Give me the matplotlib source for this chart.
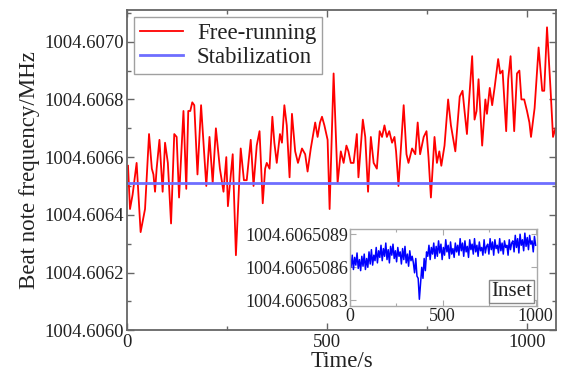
import numpy as np
import matplotlib
matplotlib.use('Agg')
import matplotlib.pyplot as plt
from matplotlib import ticker
from matplotlib.offsetbox import AnchoredText

# free-running beat note
free_t = [2.5, 7.5, 14, 24, 34, 45, 55, 62, 66, 70, 74, 81, 89, 95, 102, 110, 118, 124, 130, 141,
          148, 153, 158, 163, 168, 176, 185, 198, 206, 214, 222, 232, 241, 248, 252, 264, 272, 284, 292, 299,
          309, 316, 324, 331, 339, 345, 349, 356, 363, 368, 374, 382, 387, 393, 399, 406, 412, 420, 427, 437,
          445, 451, 459, 470, 476, 482, 487, 493, 501, 506, 516, 526, 534, 541, 548, 553, 559, 566, 574, 578,
          589, 595, 602, 609, 616, 624, 631, 637, 643, 649, 655, 662, 668, 672, 678, 691, 698, 703, 712, 720,
          726, 732, 741, 748, 753, 759, 768, 774, 780, 785, 793, 802, 809, 820, 831, 838, 843, 849, 853, 862,
          868, 873, 878, 887, 895, 899, 906, 912, 918, 927, 932, 938, 947, 952, 958, 967, 974, 980, 985, 992,
          999, 1005, 1009, 1018, 1028, 1037, 1042, 1049, 1058, 1064, 1070]
free_f = [1004.60657, 1004.60642, 1004.60647, 1004.60658, 1004.60634, 1004.60642, 1004.60668, 1004.60656,
          1004.60654, 1004.60648, 1004.60656, 1004.60666, 1004.60648, 1004.60665, 1004.60658, 1004.60637,
          1004.60668, 1004.60667, 1004.60646, 1004.60676, 1004.60649, 1004.60676, 1004.60676, 1004.60679,
          1004.60678, 1004.60654, 1004.60678, 1004.60650, 1004.60667, 1004.60651, 1004.60670, 1004.60656,
          1004.60648, 1004.60660, 1004.60643, 1004.60661, 1004.60626, 1004.60663, 1004.60652, 1004.60652,
          1004.60666, 1004.60650, 1004.60664, 1004.60669, 1004.60644, 1004.60656, 1004.60658, 1004.60656,
          1004.60674, 1004.60665, 1004.60658, 1004.60668, 1004.60665, 1004.60678, 1004.60671, 1004.60653,
          1004.60675, 1004.60662, 1004.60658, 1004.60663, 1004.60661, 1004.60655, 1004.60663, 1004.60672,
          1004.60667, 1004.60672, 1004.60674, 1004.60671, 1004.60666, 1004.60642, 1004.60689, 1004.60651,
          1004.60662, 1004.60658, 1004.60664, 1004.60662, 1004.60658, 1004.60658, 1004.60668, 1004.60653,
          1004.60673, 1004.60667, 1004.60648, 1004.60667, 1004.60658, 1004.60656, 1004.60669, 1004.60667,
          1004.60671, 1004.60667, 1004.60669, 1004.60665, 1004.60667, 1004.60662, 1004.60650, 1004.60678,
          1004.60661, 1004.60658, 1004.60663, 1004.60661, 1004.60672, 1004.60661, 1004.60667, 1004.60669,
          1004.60660, 1004.60646, 1004.60667, 1004.60658, 1004.60662, 1004.60657, 1004.60664, 1004.60680,
          1004.60671, 1004.60662, 1004.60681, 1004.60683, 1004.60676, 1004.60668, 1004.60677, 1004.60695,
          1004.60673, 1004.60676, 1004.60687, 1004.60664, 1004.60680, 1004.60675, 1004.60684, 1004.60678,
          1004.60684, 1004.60694, 1004.60689, 1004.60690, 1004.60669, 1004.60687, 1004.60695, 1004.60669,
          1004.60689, 1004.60690, 1004.60680, 1004.60680, 1004.60676, 1004.60672, 1004.60667, 1004.60677,
          1004.60698, 1004.60683, 1004.60683, 1004.60705, 1004.60683, 1004.60667, 1004.60670]

# stabilized beat note on the main scale
stab_t = [0, 1072]
stab_f = [1004.6065086, 1004.6065086]

# stabilized beat note, inset (offset from 1004.6065 MHz, in Hz)
inset_base = 1004.6065
inset_hz = [8.66, 8.60, 8.71, 8.58, 8.69, 8.62, 8.73, 8.59, 8.67, 8.57, 8.70, 8.61, 8.72, 8.58,
            8.68, 8.60, 8.74, 8.63, 8.76, 8.62, 8.71, 8.66, 8.78, 8.64, 8.75,
            8.69, 8.80, 8.66, 8.77, 8.70, 8.82, 8.67, 8.76, 8.64, 8.79, 8.71, 8.81, 8.68, 8.75, 8.65, 8.78, 8.70,
            8.74, 8.63, 8.77, 8.67, 8.79, 8.64, 8.72, 8.61, 8.75, 8.66, 8.70,
            8.64, 8.55, 8.68, 8.52,
            8.50, 8.31, 8.45,
            8.60, 8.50, 8.68, 8.57, 8.74,
            8.70, 8.80, 8.67, 8.78, 8.72, 8.82, 8.68,
            8.79, 8.70, 8.84, 8.73, 8.81, 8.67, 8.78, 8.71, 8.85, 8.74, 8.80, 8.68, 8.83, 8.72, 8.77, 8.69, 8.82, 8.74,
            8.80, 8.71, 8.86, 8.75, 8.82, 8.70, 8.84, 8.74, 8.79, 8.69, 8.85, 8.76, 8.81, 8.72, 8.86, 8.74,
            8.80, 8.70, 8.83, 8.75, 8.78, 8.71, 8.85, 8.73, 8.79,
            8.81, 8.72, 8.86, 8.76, 8.83, 8.71, 8.85, 8.77, 8.80, 8.73, 8.86, 8.75, 8.82, 8.72, 8.84, 8.78,
            8.80, 8.71, 8.85, 8.76, 8.82,
            8.84, 8.74, 8.89, 8.78, 8.86, 8.73, 8.90, 8.80, 8.85, 8.75, 8.91, 8.79, 8.87, 8.76, 8.89, 8.81,
            8.84, 8.74, 8.88, 8.80]
inset_f = inset_base + np.array(inset_hz) * 1e-6
inset_t = np.linspace(0, 1000, len(inset_f))

plt.rcParams['font.family'] = ['Liberation Serif', 'DejaVu Serif']
text_c = '#222222'
spine_c = '#666666'

fig = plt.figure(figsize=(5.67, 3.71), dpi=100)
ax = fig.add_axes([0.224, 0.110, 0.757, 0.863])

ax.plot(free_t, free_f, color='#ff0000', lw=1.3, label='Free-running')
ax.plot(stab_t, stab_f, color='#6e6eff', lw=2.0, label='Stabilization')

ax.set_xlim(0, 1072)
ax.set_ylim(1004.6060, 1004.60711)
ax.xaxis.set_major_locator(ticker.FixedLocator([0, 500, 1000]))
ax.xaxis.set_minor_locator(ticker.FixedLocator([250, 750]))
ax.yaxis.set_major_locator(ticker.FixedLocator([1004.6060, 1004.6062, 1004.6064, 1004.6066, 1004.6068, 1004.6070]))
ax.yaxis.set_minor_locator(ticker.FixedLocator([1004.6061, 1004.6063, 1004.6065, 1004.6067, 1004.6069, 1004.6071]))
ax.yaxis.set_major_formatter(ticker.FormatStrFormatter('%.4f'))
ax.tick_params(which='both', direction='in', top=True, right=True, colors=spine_c,
               labelcolor=text_c, labelsize=13.5, width=1.0)
ax.tick_params(which='major', length=5)
ax.tick_params(which='minor', length=3)
ax.tick_params(axis='x', pad=2.5)
ax.tick_params(axis='y', pad=2)
for s in ax.spines.values():
    s.set_color(spine_c)
    s.set_linewidth(1.3)

ax.set_xlabel('Time/s', fontsize=16.5, color=text_c, labelpad=0.5)
ax.set_ylabel('Beat note frequency/MHz', fontsize=16.5, color=text_c, labelpad=3)

leg = ax.legend(loc='upper left', fontsize=16.5, frameon=True, fancybox=False, handlelength=1.9,
                borderpad=0.25, labelspacing=0.15, handletextpad=0.6, borderaxespad=0.3)
leg.get_frame().set_edgecolor('#888888')
leg.get_frame().set_linewidth(1.0)
for t in leg.get_texts():
    t.set_color(text_c)

# inset
ax_in = fig.add_axes([0.617, 0.174, 0.330, 0.208])
ax_in.plot(inset_t, inset_f, color='#0000ff', lw=1.1)
ax_in.set_xlim(0, 1007)
ax_in.set_ylim(inset_base + 8.245e-6, inset_base + 8.945e-6)
ax_in.xaxis.set_major_locator(ticker.FixedLocator([0, 500, 1000]))
ax_in.xaxis.set_minor_locator(ticker.FixedLocator([250, 750]))
ax_in.yaxis.set_major_locator(ticker.FixedLocator([inset_base + 8.3e-6, inset_base + 8.6e-6, inset_base + 8.9e-6]))
ax_in.yaxis.set_major_formatter(ticker.FormatStrFormatter('%.7f'))
ax_in.tick_params(which='both', direction='in', top=True, right=True, colors='#aaaaaa',
                  labelcolor=text_c, labelsize=13, width=0.8, pad=1)
ax_in.tick_params(which='major', length=4)
ax_in.tick_params(which='minor', length=2.5)
for s in ax_in.spines.values():
    s.set_color('#aaaaaa')
    s.set_linewidth(1.0)

txt = AnchoredText('Inset', loc='lower right', prop={'size': 15, 'color': text_c}, frameon=True,
                   pad=0.1, borderpad=0.15)
txt.patch.set_edgecolor('#888888')
txt.patch.set_linewidth(1.0)
ax_in.add_artist(txt)

fig.savefig('out.png', dpi=100)
